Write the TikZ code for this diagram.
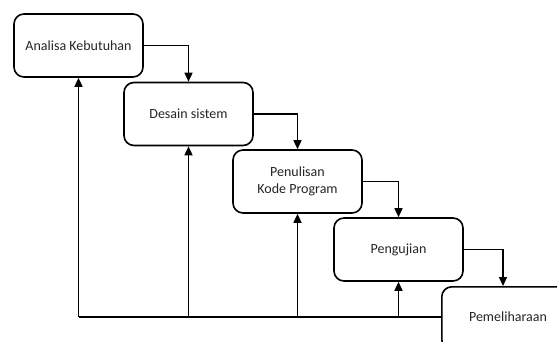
\documentclass[tikz,border=0pt]{standalone}
\usepackage{fontspec}
\setmainfont{Carlito}
\usetikzlibrary{arrows.meta}
\begin{document}
\begin{tikzpicture}[x=1pt,y=-1pt,
  stage/.style={draw=black, line width=1.6pt, rounded corners=10pt, fill=white,
    minimum width=129pt, minimum height=63pt, inner sep=0pt, align=center,
    font=\fontsize{14}{16.5}\selectfont, text=black!85},
  flow/.style={line width=1.5pt, draw=black, -{Triangle[length=9pt,width=8pt]}},
  back/.style={line width=1.5pt, draw=black}]
\useasboundingbox (0,0) rectangle (557,342);
\clip (0,0) rectangle (557,342);
\node[stage] (a) at (78.5,45.5) {Analisa Kebutuhan};
\node[stage] (b) at (188.5,114) {Desain sistem};
\node[stage] (c) at (297.5,181.5) {Penulisan\\Kode Program};
\node[stage] (d) at (398.5,249.5) {Pengujian};
\node[stage, anchor=north west] (e) at (441,286) {};
\node[font=\fontsize{14}{16.5}\selectfont, text=black!85] (et) at (508,317) {Pemeliharaan};
\draw[flow] (a.east) -| (b.north);
\draw[flow] (b.east) -| (c.north);
\draw[flow] (c.east) -| (d.north);
\coordinate (e5) at (503,286);
\draw[flow] (d.east) -| (e5);
\coordinate (base) at (441,317);
\coordinate (corner) at (78.5,317);
\draw[back] (base) -- (corner);
\draw[flow] (corner) -- (a.south);
\draw[flow] (b.south |- base) -- (b.south);
\draw[flow] (c.south |- base) -- (c.south);
\draw[flow] (d.south |- base) -- (d.south);
\end{tikzpicture}
\end{document}
